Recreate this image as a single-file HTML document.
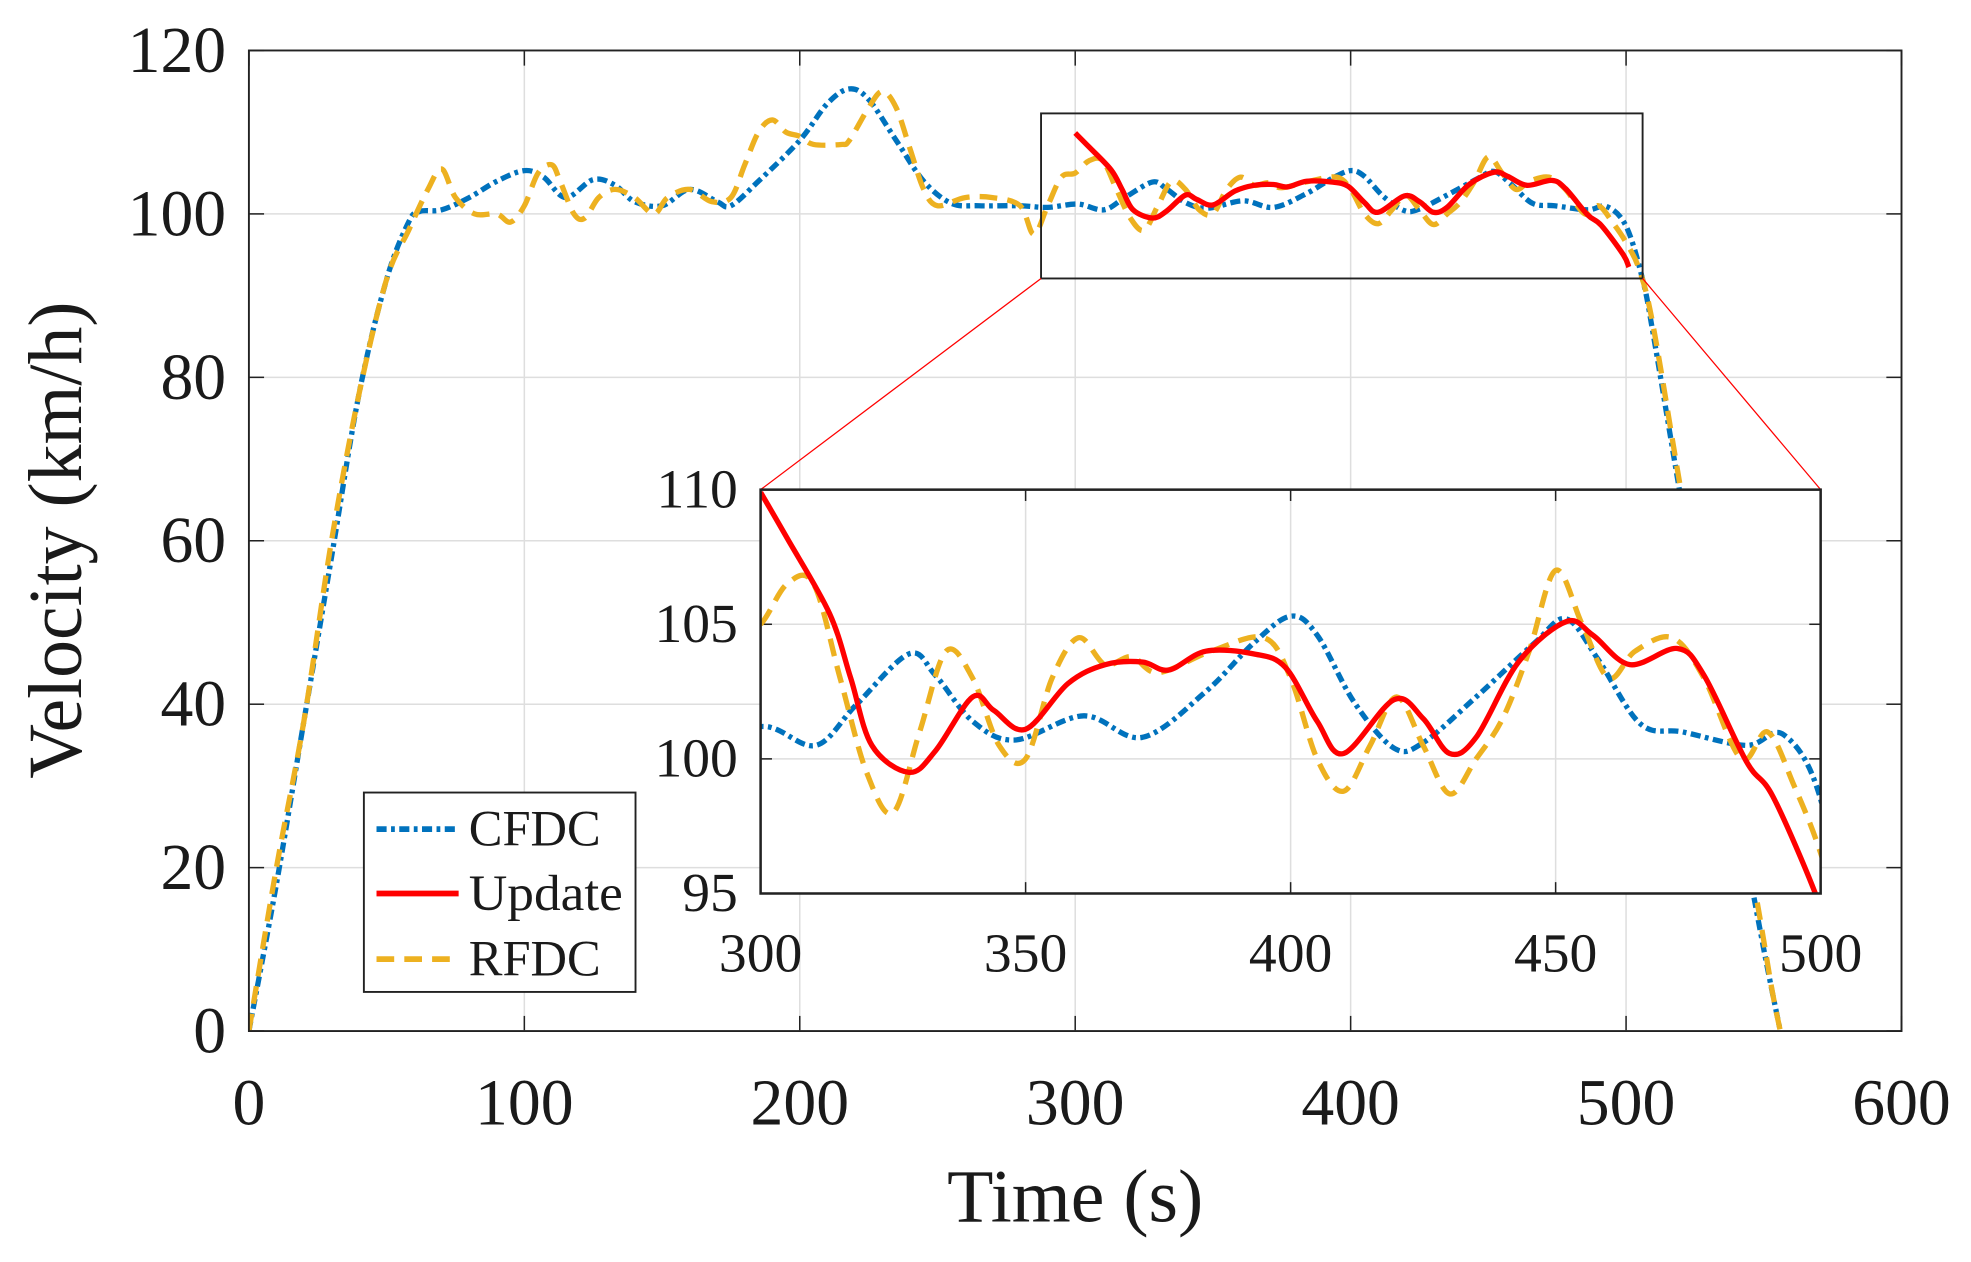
<!DOCTYPE html>
<html><head><meta charset="utf-8"><style>
html,body{margin:0;padding:0;background:#fff;width:1971px;height:1262px;overflow:hidden;}
svg{display:block;}
text{font-family:"Liberation Serif",serif;fill:#1a1a1a;}
</style></head><body>
<svg id="chart" width="1971" height="1262" viewBox="0 0 1560 1000" preserveAspectRatio="none" xmlns="http://www.w3.org/2000/svg">
<defs>
<clipPath id="mainClip"><rect x="197" y="40" width="1308" height="777"/></clipPath>
<clipPath id="insetClip"><rect x="602" y="388" width="839" height="320"/></clipPath>
</defs>
<g id="main"></g>
<g id="inset"></g>
<g id="legend"></g>
</svg>
<script>
const cfdcT=[0,10,20,30,40,50,58,62,70,80,90,100,107,115,125,133,140,150,160,170,175,185,200,210,218,225,235,245,255,265,280,290,301,310.4,318,328,333,340,348,361,372,384,393,400,405,412,419.5,425,435,446,452,458,466,474,486,493,500,506,510,520,530,540,550,556];
const cfdcV=[0,18,38,58,78,92,99,100.3,100.5,102,104,105.3,104.5,102,104.2,103.5,101.5,101,103,101.5,101,104,109,113.5,115.3,114,109,104,101.3,101,101,100.8,101.2,100.5,102,103.9,103.1,101.4,100.7,101.6,100.8,102.5,104.3,105.3,104.6,102.1,100.4,100.6,102.3,104.3,105.2,103.7,101.3,101,100.5,100.9,98.5,92,85,65,46,28,10,0];
const updT=[300,305,313,317,321,328,333,340,344,350,358,365,372,377,384,393,399,405,410,419.5,425,430,435,443,452,457,464,473,478,486,491,499,501];
const updV=[109.9,108.2,105.4,103,100.5,99.5,100.3,102.3,101.8,101.1,102.8,103.5,103.6,103.3,104,103.9,103.4,101.4,100.2,102.2,101.5,100.2,100.8,103.6,105.1,104.6,103.5,104.1,103.1,99.9,98.6,95,93.5];
const rfdcT=[0,10,20,30,40,50,58,65,70,75,82,90,95,100,105,110,113,118,122,127,133,140,147,152,160,168,175,180,185,190,195,200,205,215,218,225,230,235,240,245,250,260,270,280,285,290,295,300,305,310,315,320,325,330,335,340,345,350,355,360,365,370,375,385,395,400,405,410,415,420,425,430,435,440,445,450,455,460,465,472,478,485,490,495,500,505,510,520,530,540,548,553,556];
const rfdcV=[0,20,38,60,78,92,98,103,105.5,102,100,100,99,101,105,106,104,100,99.5,102,103,102,100,102,103,101.5,102,106,110,111.5,110,109.5,108.5,108.5,109,113,115,113,108,103,101,102,102,101,97.5,101,104.5,105,106.5,106.5,103,99.5,98,101,104,103,100.5,100,103,104.5,103.5,103.8,103.2,104,104.5,103,100,98.8,100.5,102.3,100.5,98.7,100,101.5,104,107,105,103,104,104.5,103,100,101,99,96.5,93,86,66,47,30,15,5,0];
const mainXTicks=[0,100,200,300,400,500,600];
const mainYTicks=[0,20,40,60,80,100,120];
const insetXTicks=[300,350,400,450,500];
const insetYTicks=[95,100,105,110];

const NS="http://www.w3.org/2000/svg";
function mk(tag,attrs,parent){const e=document.createElementNS(NS,tag);for(const k in attrs)e.setAttribute(k,attrs[k]);parent.appendChild(e);return e;}
function axis(x0,x1,d0,d1){return v=>x0+(v-d0)/(d1-d0)*(x1-x0);}
function smooth(pts){let d="M"+pts[0][0]+","+pts[0][1];for(let i=0;i<pts.length-1;i++){const p0=pts[i-1]||pts[i],p1=pts[i],p2=pts[i+1],p3=pts[i+2]||p2;const c1x=p1[0]+(p2[0]-p0[0])/6,c1y=p1[1]+(p2[1]-p0[1])/6,c2x=p2[0]-(p3[0]-p1[0])/6,c2y=p2[1]-(p3[1]-p1[1])/6;d+=" C"+c1x+","+c1y+" "+c2x+","+c2y+" "+p2[0]+","+p2[1];}return d;}
const styles={cfdc:{stroke:"#0072BD",dash:"8 3.5 3 3.5"},upd:{stroke:"#FF0000",dash:""},rfdc:{stroke:"#EDB120",dash:"14 8"}};
function series(g,T,V,sx,sy,st,w,name){const p=mk("path",{d:smooth(T.map((t,i)=>[sx(t),sy(V[i])])),fill:"none",stroke:st.stroke,"stroke-width":w,"stroke-dasharray":st.dash,"stroke-linejoin":"round"},g);}

const gm=document.getElementById('main');
const mx=axis(197,1505,0,600), my=axis(817,40,0,120);
mk("rect",{x:197,y:40,width:1308,height:777,fill:"#fff"},gm);
mainXTicks.forEach(t=>{const l=mk("line",{x1:mx(t),x2:mx(t),y1:40,y2:817,stroke:"#dedede","stroke-width":1.2},gm);
 mk("line",{x1:mx(t),x2:mx(t),y1:817,y2:805,stroke:"#222","stroke-width":1.2},gm);mk("line",{x1:mx(t),x2:mx(t),y1:40,y2:52,stroke:"#222","stroke-width":1.2},gm);
 const tx=mk("text",{x:mx(t),y:891,"font-size":52,"text-anchor":"middle"},gm);tx.textContent=t;});
mainYTicks.forEach(v=>{const l=mk("line",{x1:197,x2:1505,y1:my(v),y2:my(v),stroke:"#dedede","stroke-width":1.2},gm);
 mk("line",{x1:197,x2:209,y1:my(v),y2:my(v),stroke:"#222","stroke-width":1.2},gm);mk("line",{x1:1505,x2:1493,y1:my(v),y2:my(v),stroke:"#222","stroke-width":1.2},gm);
 const tx=mk("text",{x:179,y:my(v)+17,"font-size":52,"text-anchor":"end"},gm);tx.textContent=v;});
const gc=mk("g",{"clip-path":"url(#mainClip)"},gm);
series(gc,cfdcT,cfdcV,mx,my,styles.cfdc,4.2,'cfdc-line');
series(gc,rfdcT,rfdcV,mx,my,styles.rfdc,4.2,'rfdc-line');
series(gc,updT,updV,mx,my,styles.upd,4.2,'update-line');
mk("rect",{x:197,y:40,width:1308,height:777,fill:"none",stroke:"#222","stroke-width":1.5},gm);
const zr=mk("rect",{x:mx(287.6),y:my(112.3),width:mx(506)-mx(287.6),height:my(92.1)-my(112.3),fill:"none",stroke:"#222","stroke-width":1.5},gm);

mk("line",{x1:mx(287.6),y1:my(92.1),x2:602,y2:388,stroke:"#ff0000","stroke-width":1},gm);
mk("line",{x1:mx(506),y1:my(92.1),x2:1441,y2:388,stroke:"#ff0000","stroke-width":1},gm);
let t=mk("text",{x:851,y:968,"font-size":60,"text-anchor":"middle"},gm);t.textContent="Time (s)";
t=mk("text",{x:0,y:0,"font-size":60,"text-anchor":"middle",transform:"translate(64,428) rotate(-90)"},gm);t.textContent="Velocity (km/h)";

const gi=document.getElementById('inset');
const ix=axis(602,1441,300,500), iy=axis(708,388,95,110);
mk("rect",{x:602,y:388,width:839,height:320,fill:"#fff"},gi);
insetXTicks.forEach(v=>{mk("line",{x1:ix(v),x2:ix(v),y1:388,y2:708,stroke:"#dedede","stroke-width":1.2},gi);
 mk("line",{x1:ix(v),x2:ix(v),y1:708,y2:699,stroke:"#222","stroke-width":1.2},gi);mk("line",{x1:ix(v),x2:ix(v),y1:388,y2:397,stroke:"#222","stroke-width":1.2},gi);
 const tx=mk("text",{x:ix(v),y:770,"font-size":44,"text-anchor":"middle"},gi);tx.textContent=v;});
insetYTicks.forEach(v=>{mk("line",{x1:602,x2:1441,y1:iy(v),y2:iy(v),stroke:"#dedede","stroke-width":1.2},gi);
 mk("line",{x1:602,x2:611,y1:iy(v),y2:iy(v),stroke:"#222","stroke-width":1.2},gi);mk("line",{x1:1441,x2:1432,y1:iy(v),y2:iy(v),stroke:"#222","stroke-width":1.2},gi);
 const tx=mk("text",{x:584,y:iy(v)+14,"font-size":44,"text-anchor":"end"},gi);tx.textContent=v;});
const gic=mk("g",{"clip-path":"url(#insetClip)"},gi);
series(gic,cfdcT,cfdcV,ix,iy,styles.cfdc,4.2,'inset-cfdc-line');
series(gic,rfdcT,rfdcV,ix,iy,styles.rfdc,4.2,'inset-rfdc-line');
series(gic,updT,updV,ix,iy,styles.upd,4.2,'inset-update-line');
mk("rect",{x:602,y:388,width:839,height:320,fill:"none",stroke:"#222","stroke-width":2},gi);

const gl=document.getElementById('legend');
mk("rect",{x:288,y:628,width:215,height:158,fill:"#fff",stroke:"#222","stroke-width":1.5},gl);
[["CFDC",styles.cfdc,657],["Update",styles.upd,708],["RFDC",styles.rfdc,760]].forEach(([lab,st,y])=>{
 const g=mk("g",{},gl);
 mk("line",{x1:298,x2:363,y1:y,y2:y,stroke:st.stroke,"stroke-width":4.5,"stroke-dasharray":st.dash},g);
 const tx=mk("text",{x:371,y:y+13,"font-size":40,textLength:122,lengthAdjust:"spacingAndGlyphs"},g);tx.textContent=lab;
 if(lab!=="Update"){tx.removeAttribute('textLength');tx.removeAttribute('lengthAdjust');}});
</script>
</body></html>
